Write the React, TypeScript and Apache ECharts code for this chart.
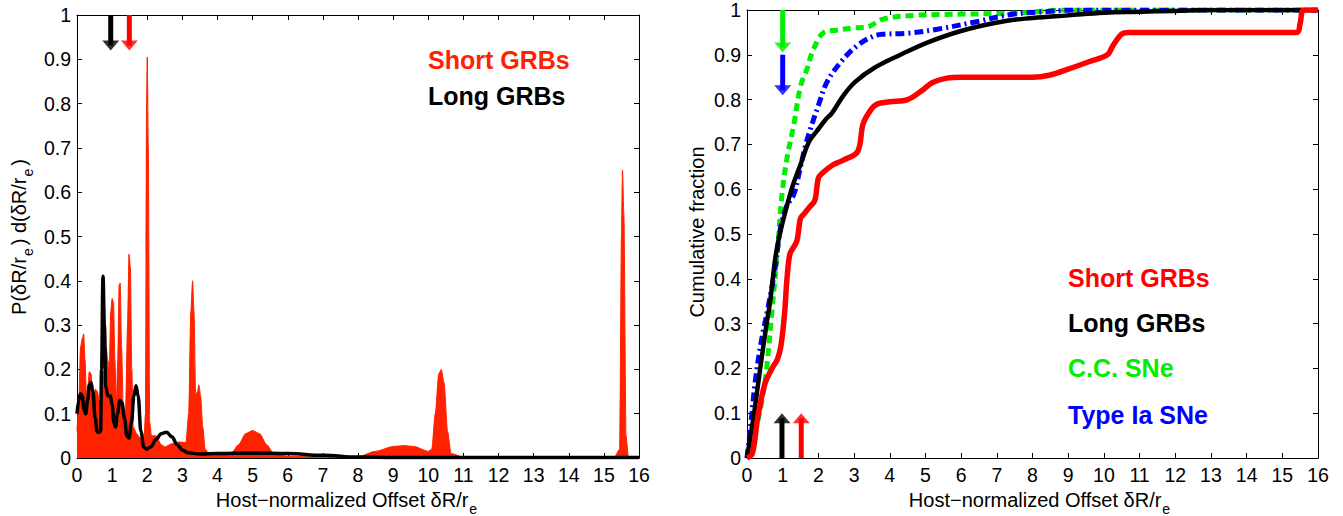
import React, { useEffect, useRef } from "react";
import * as echarts from "echarts";

// ---------- data ----------
// Left panel: probability density of host-normalized offsets
const shortDensX = [0.0, 0.05, 0.1, 0.15, 0.19, 0.23, 0.27, 0.31, 0.35, 0.4, 0.44, 0.48, 0.53, 0.58, 0.63, 0.68, 0.72, 0.78, 0.83, 0.88, 0.92, 0.96, 1.0, 1.04, 1.08, 1.12, 1.16, 1.2, 1.23, 1.27, 1.32, 1.38, 1.44, 1.48, 1.52, 1.56, 1.6, 1.7, 1.8, 1.9, 1.95, 1.98, 2.0, 2.03, 2.07, 2.12, 2.25, 2.4, 2.5, 2.7, 2.9, 3.1, 3.18, 3.24, 3.29, 3.33, 3.38, 3.43, 3.47, 3.52, 3.58, 3.65, 3.75, 4.2, 4.4, 4.6, 4.8, 5.0, 5.2, 5.4, 5.6, 6.0, 7.0, 8.0, 8.5, 9.0, 9.3, 9.6, 10.0, 10.1, 10.2, 10.3, 10.37, 10.45, 10.55, 10.65, 11.0, 15.3, 15.45, 15.5, 15.53, 15.57, 15.63, 15.7, 16.0];
const shortDensY = [0.06, 0.12, 0.25, 0.27, 0.28, 0.22, 0.14, 0.16, 0.195, 0.19, 0.14, 0.15, 0.155, 0.15, 0.13, 0.12, 0.14, 0.2, 0.25, 0.22, 0.2, 0.33, 0.36, 0.35, 0.22, 0.12, 0.22, 0.39, 0.395, 0.25, 0.1, 0.1, 0.3, 0.46, 0.43, 0.2, 0.07, 0.055, 0.045, 0.03, 0.1, 0.8, 0.905, 0.7, 0.08, 0.05, 0.05, 0.03, 0.025, 0.032, 0.036, 0.035, 0.1, 0.33, 0.4, 0.33, 0.14, 0.15, 0.165, 0.14, 0.07, 0.02, 0.01, 0.008, 0.012, 0.03, 0.055, 0.062, 0.055, 0.03, 0.01, 0.004, 0.002, 0.003, 0.015, 0.026, 0.028, 0.026, 0.015, 0.02, 0.1, 0.19, 0.2, 0.17, 0.06, 0.01, 0.002, 0.002, 0.02, 0.5, 0.65, 0.55, 0.05, 0.002, 0.002];
const longDensX = [0.0, 0.05, 0.1, 0.15, 0.2, 0.25, 0.3, 0.35, 0.4, 0.45, 0.52, 0.57, 0.62, 0.67, 0.7, 0.74, 0.78, 0.82, 0.88, 0.95, 1.0, 1.05, 1.1, 1.15, 1.22, 1.28, 1.35, 1.42, 1.48, 1.55, 1.62, 1.68, 1.74, 1.82, 1.9, 1.98, 2.1, 2.25, 2.4, 2.55, 2.7, 2.85, 3.0, 3.15, 3.5, 4.0, 5.0, 6.0, 7.0, 8.0, 9.0, 16.0];
const longDensY = [0.1, 0.13, 0.145, 0.14, 0.11, 0.1, 0.13, 0.165, 0.17, 0.15, 0.09, 0.06, 0.058, 0.06, 0.2, 0.41, 0.3, 0.16, 0.14, 0.14, 0.12, 0.08, 0.07, 0.1, 0.13, 0.125, 0.09, 0.05, 0.045, 0.08, 0.14, 0.163, 0.14, 0.06, 0.025, 0.02, 0.025, 0.042, 0.055, 0.058, 0.048, 0.03, 0.018, 0.012, 0.009, 0.01, 0.011, 0.01, 0.006, 0.002, 0.001, 0.001];

// Right panel: cumulative distributions
const cdfShortX = [0, 0.15, 0.3, 0.5, 0.7, 0.85, 0.95, 1.05, 1.12, 1.2, 1.3, 1.4, 1.5, 1.6, 1.75, 1.9, 2.0, 2.1, 2.4, 2.7, 3.1, 3.25, 3.45, 3.65, 4.0, 4.5, 4.9, 5.2, 5.6, 6.0, 8.0, 8.5, 9.0, 9.6, 10.1, 10.25, 10.5, 10.7, 15.4, 15.5, 15.6, 16];
const cdfShortY = [0, 0.01, 0.09, 0.165, 0.2, 0.22, 0.25, 0.32, 0.4, 0.455, 0.47, 0.485, 0.535, 0.545, 0.56, 0.575, 0.625, 0.635, 0.654, 0.665, 0.684, 0.745, 0.775, 0.79, 0.795, 0.8, 0.82, 0.838, 0.848, 0.85, 0.85, 0.855, 0.868, 0.885, 0.9, 0.92, 0.946, 0.95, 0.95, 0.97, 1.0, 1.0];
const cdfLongX = [0, 0.1, 0.2, 0.37, 0.55, 0.65, 0.8, 0.95, 1.25, 1.5, 1.73, 1.96, 2.2, 2.38, 2.71, 3.04, 3.55, 4.3, 5.14, 6.17, 7.29, 8.0, 9.0, 10.0, 11.0, 12.0, 13.0, 16.0];
const cdfLongY = [0, 0.05, 0.1, 0.2, 0.3, 0.35, 0.45, 0.51, 0.6, 0.655, 0.705, 0.73, 0.755, 0.77, 0.81, 0.84, 0.87, 0.9, 0.93, 0.957, 0.976, 0.982, 0.988, 0.994, 0.996, 0.998, 1.0, 1.0];
const cdfCCX = [0, 0.2, 0.4, 0.55, 0.7, 0.85, 0.98, 1.12, 1.31, 1.5, 1.68, 1.85, 2.15, 2.5, 3.0, 3.36, 3.83, 4.67, 5.4, 7.5, 9.0, 16];
const cdfCCY = [0, 0.05, 0.12, 0.2, 0.33, 0.46, 0.588, 0.669, 0.743, 0.83, 0.868, 0.91, 0.95, 0.955, 0.96, 0.962, 0.98, 0.988, 0.99, 0.993, 1.0, 1.0];
const cdfIaX = [0, 0.1, 0.23, 0.4, 0.6, 0.8, 0.93, 1.1, 1.31, 1.45, 1.64, 1.78, 2.0, 2.24, 2.62, 3.08, 3.55, 3.83, 4.49, 5.33, 6.5, 7.4, 8.5, 9.2, 16];
const cdfIaY = [0, 0.07, 0.17, 0.26, 0.34, 0.43, 0.51, 0.56, 0.588, 0.632, 0.698, 0.735, 0.787, 0.839, 0.883, 0.92, 0.942, 0.946, 0.948, 0.957, 0.975, 0.99, 0.997, 1.0, 1.0];

// Median markers (arrows): x position, start value, tip value
const leftArrowX = [0.96, 1.49];
const leftArrowStart = [1.0, 1.0];
const leftArrowTip = [0.92, 0.92];
const rightArrowX = [0.98, 1.52, 1.0, 1.0];
const rightArrowStart = [0.0, 0.0, 1.0, 0.9];
const rightArrowTip = [0.1, 0.1, 0.905, 0.81];

// Axis range
const X_MIN = 0;
const X_MAX = 16;
const X_STEP = 1;
const Y_MIN = 0;
const Y_MAX = 1;
const Y_STEP = 0.1;

// Texts
const leftLegend = ["Short GRBs", "Long GRBs"];
const rightLegend = ["Short GRBs", "Long GRBs", "C.C. SNe", "Type Ia SNe"];

// ---------- styles ----------
const FONT = '"Liberation Sans", Arial, Helvetica, sans-serif';
const RED_FILL = "#ff2200";
const RED = "#ff0000";
const BLACK = "#000000";
const GREEN = "#00ee00";
const BLUE = "#0000ff";

const zip = (xs: number[], ys: number[]) => xs.map((x, i) => [x, ys[i]]);

const xAxisDef = (gridIndex: number, position: string, showLabel: boolean) => ({
  type: "value",
  gridIndex,
  position,
  min: X_MIN,
  max: X_MAX,
  interval: X_STEP,
  axisLine: { show: true, onZero: false, lineStyle: { color: BLACK, width: 1 } },
  axisTick: { show: true, inside: true, length: 5, lineStyle: { color: BLACK, width: 1 } },
  axisLabel: { show: showLabel, color: BLACK, fontSize: 19.5, fontFamily: FONT, margin: 7 },
  splitLine: { show: false },
});

const yAxisDef = (gridIndex: number, position: string, showLabel: boolean) => ({
  type: "value",
  gridIndex,
  position,
  min: Y_MIN,
  max: Y_MAX,
  interval: Y_STEP,
  axisLine: { show: true, onZero: false, lineStyle: { color: BLACK, width: 1 } },
  axisTick: { show: true, inside: true, length: 5, lineStyle: { color: BLACK, width: 1 } },
  axisLabel: { show: showLabel, color: BLACK, fontSize: 19.5, fontFamily: FONT, margin: 6 },
  splitLine: { show: false },
});

function arrowSeries(
  xAxisIndex: number,
  yAxisIndex: number,
  x: number,
  start: number,
  tip: number,
  color: string,
  headOffset: number
) {
  const dir = tip > start ? 1 : -1;
  const headCenter = tip - dir * headOffset;
  return [
    {
      type: "line",
      xAxisIndex,
      yAxisIndex,
      data: [
        [x, start],
        [x, headCenter],
      ],
      symbol: "none",
      lineStyle: { color, width: 5 },
      silent: true,
      z: 6,
    },
    {
      type: "scatter",
      xAxisIndex,
      yAxisIndex,
      data: [[x, headCenter]],
      symbol: "triangle",
      symbolSize: [17, 10],
      symbolRotate: dir > 0 ? 0 : 180,
      itemStyle: { color },
      silent: true,
      z: 7,
    },
  ];
}

const textEl = (
  text: string,
  x: number,
  y: number,
  color: string,
  size: number,
  weight: string,
  align = "left"
) => ({
  type: "text",
  x,
  y,
  z: 100,
  silent: true,
  style: {
    text,
    fill: color,
    fontSize: size,
    fontWeight: weight,
    fontFamily: FONT,
    align,
    textAlign: align,
    verticalAlign: "middle",
    textVerticalAlign: "middle",
  },
});

const subRich = {
  m: { fontSize: 20, lineHeight: 20, fontFamily: FONT, fill: BLACK, verticalAlign: "top" },
  s: { fontSize: 14, lineHeight: 14, fontFamily: FONT, fill: BLACK, verticalAlign: "top", padding: [12, 3, 0, 1] },
};

const richEl = (text: string, x: number, y: number, rotation: number) => ({
  type: "text",
  x,
  y,
  rotation,
  z: 100,
  silent: true,
  style: {
    text,
    rich: subRich,
    fill: BLACK,
    fontSize: 20,
    fontFamily: FONT,
    align: "center",
    textAlign: "center",
    verticalAlign: "top",
    textVerticalAlign: "top",
  },
});

export default function App() {
  const ref = useRef<HTMLDivElement>(null);

  useEffect(() => {
    if (!ref.current) return;
    const chart = echarts.init(ref.current, undefined, { renderer: "svg" });

    const leftHead = 5 / 443;
    const rightHead = 5 / 451;

    const series: any[] = [
      // Left panel
      {
        type: "line",
        xAxisIndex: 0,
        yAxisIndex: 0,
        data: zip(shortDensX, shortDensY),
        symbol: "none",
        smooth: 0.25,
        smoothMonotone: "x",
        lineStyle: { color: RED_FILL, width: 1 },
        areaStyle: { color: RED_FILL, opacity: 1 },
        z: 2,
      },
      {
        type: "line",
        xAxisIndex: 0,
        yAxisIndex: 0,
        data: zip(longDensX, longDensY),
        symbol: "none",
        smooth: 0.4,
        smoothMonotone: "x",
        lineStyle: { color: BLACK, width: 3.5 },
        z: 3,
      },
      ...arrowSeries(0, 0, leftArrowX[0], leftArrowStart[0], leftArrowTip[0], BLACK, leftHead),
      ...arrowSeries(0, 0, leftArrowX[1], leftArrowStart[1], leftArrowTip[1], RED, leftHead),
      // Right panel
      {
        type: "line",
        xAxisIndex: 2,
        yAxisIndex: 2,
        data: zip(cdfCCX, cdfCCY),
        symbol: "none",
        smooth: 0.35,
        lineStyle: { color: GREEN, width: 5, type: [8, 5] },
        z: 2,
      },
      {
        type: "line",
        xAxisIndex: 2,
        yAxisIndex: 2,
        data: zip(cdfIaX, cdfIaY),
        symbol: "none",
        smooth: 0.35,
        lineStyle: { color: BLUE, width: 5, type: [9, 4, 2, 4] },
        z: 3,
      },
      {
        type: "line",
        xAxisIndex: 2,
        yAxisIndex: 2,
        data: zip(cdfLongX, cdfLongY),
        symbol: "none",
        smooth: 0.4,
        lineStyle: { color: BLACK, width: 4.5 },
        z: 4,
      },
      {
        type: "line",
        xAxisIndex: 2,
        yAxisIndex: 2,
        data: zip(cdfShortX, cdfShortY),
        symbol: "none",
        smooth: 0.35,
        lineStyle: { color: RED, width: 5.5 },
        z: 5,
      },
      ...arrowSeries(2, 2, rightArrowX[0], rightArrowStart[0], rightArrowTip[0], BLACK, rightHead),
      ...arrowSeries(2, 2, rightArrowX[1], rightArrowStart[1], rightArrowTip[1], RED, rightHead),
      ...arrowSeries(2, 2, rightArrowX[2], rightArrowStart[2], rightArrowTip[2], GREEN, rightHead),
      ...arrowSeries(2, 2, rightArrowX[3], rightArrowStart[3], rightArrowTip[3], BLUE, rightHead),
    ];

    const rightColors = [RED, BLACK, GREEN, BLUE];
    const rightLegendY = [278, 323, 368, 415];

    chart.setOption({
      animation: false,
      backgroundColor: "#ffffff",
      grid: [
        { left: 77, top: 15, width: 562, height: 443, show: false },
        { left: 747, top: 7, width: 571, height: 451, show: false },
      ],
      xAxis: [
        xAxisDef(0, "bottom", true),
        xAxisDef(0, "top", false),
        xAxisDef(1, "bottom", true),
        xAxisDef(1, "top", false),
      ],
      yAxis: [
        yAxisDef(0, "left", true),
        yAxisDef(0, "right", false),
        yAxisDef(1, "left", true),
        yAxisDef(1, "right", false),
      ],
      series,
      graphic: [
        textEl(leftLegend[0], 428, 60, RED_FILL, 25, "bold"),
        textEl(leftLegend[1], 428, 96, BLACK, 25, "bold"),
        ...rightLegend.map((t, i) => textEl(t, 1068, rightLegendY[i], rightColors[i], 25, "bold")),
        richEl("{m|Host−normalized Offset δR/r}{s|e}", 348, 490, 0),
        richEl("{m|Host−normalized Offset δR/r}{s|e}", 1041, 490, 0),
        richEl("{m|P(δR/r}{s|e}{m|) d(δR/r}{s|e}{m|)}", 9, 237, Math.PI / 2),
        {
          type: "text",
          x: 697,
          y: 232,
          rotation: Math.PI / 2,
          z: 100,
          silent: true,
          style: {
            text: "Cumulative fraction",
            fill: BLACK,
            fontSize: 20,
            fontFamily: FONT,
            align: "center",
            textAlign: "center",
            verticalAlign: "middle",
            textVerticalAlign: "middle",
          },
        },
      ],
    });

    return () => chart.dispose();
  }, []);

  return (
    <div
      ref={ref}
      style={{ position: "absolute", left: 0, top: 0, width: 1343, height: 516, background: "#fff" }}
    />
  );
}
